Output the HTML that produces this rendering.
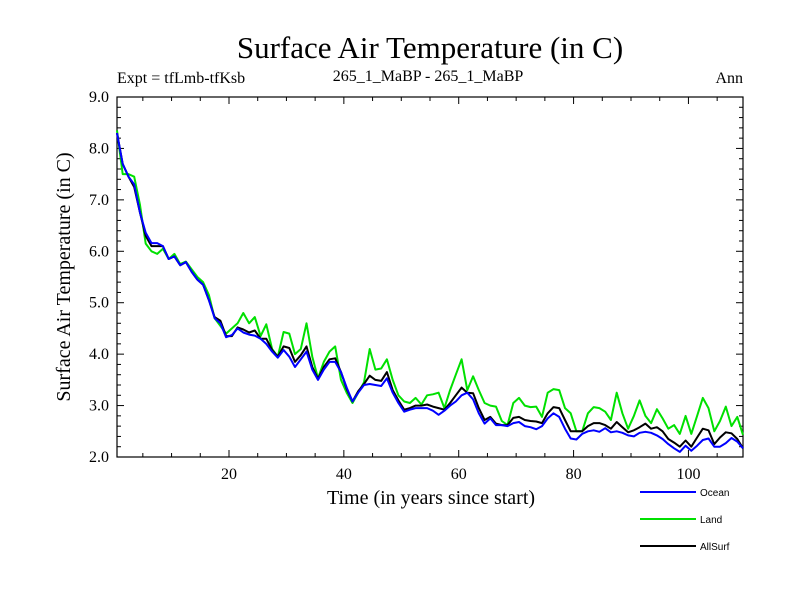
<!DOCTYPE html>
<html><head><meta charset="utf-8"><style>
body{margin:0;background:#fff}
svg{display:block;font-family:"Liberation Serif",serif}
</style></head><body>
<svg id="chart" width="800" height="600">
<text x="430" y="58" font-size="31" text-anchor="middle">Surface Air Temperature (in C)</text>
<text x="117" y="83" font-size="16">Expt = tfLmb-tfKsb</text>
<text x="428" y="81" font-size="16" text-anchor="middle">265_1_MaBP - 265_1_MaBP</text>
<text x="743" y="83" font-size="16" text-anchor="end">Ann</text>
<text x="431" y="504" font-size="20" text-anchor="middle">Time (in years since start)</text>
<text transform="translate(70,277) rotate(-90)" font-size="20" text-anchor="middle">Surface Air Temperature (in C)</text>
<g id="axes"></g>
<g id="series"></g>
<g id="legend"></g>
</svg>
<script>
const ocean=[8.3,7.7,7.45,7.3,6.75,6.36,6.16,6.16,6.1,5.85,5.9,5.73,5.79,5.6,5.45,5.35,5.05,4.7,4.6,4.33,4.37,
4.5,4.42,4.38,4.36,4.3,4.2,4.05,3.93,4.08,3.95,3.75,3.9,4.05,3.7,3.5,3.7,3.85,3.85,3.65,3.35,
3.08,3.25,3.4,3.42,3.4,3.38,3.53,3.25,3.05,2.88,2.92,2.95,2.95,2.95,2.9,2.82,2.9,3.0,3.08,
3.2,3.25,3.12,2.85,2.65,2.75,2.62,2.62,2.6,2.66,2.68,2.6,2.58,2.54,2.6,2.75,2.85,2.78,2.55,2.36,
2.34,2.45,2.5,2.52,2.49,2.56,2.48,2.5,2.47,2.42,2.4,2.47,2.49,2.47,
2.42,2.35,2.25,2.17,2.1,2.22,2.12,2.22,2.33,2.36,2.2,2.2,2.27,2.37,2.3,2.17];
const land=[8.35,7.5,7.5,7.45,6.9,6.15,6.0,5.95,6.05,5.85,5.95,5.75,5.8,5.65,5.5,5.4,5.15,4.7,4.55,4.4,4.5,
4.6,4.8,4.6,4.72,4.35,4.58,4.1,3.95,4.43,4.4,4.0,4.1,4.6,3.95,3.53,3.85,4.05,4.15,3.5,3.25,
3.05,3.25,3.45,4.1,3.7,3.72,3.9,3.5,3.2,3.08,3.05,3.15,3.02,3.2,3.22,3.25,2.95,3.3,3.6,
3.9,3.3,3.57,3.3,3.05,3.0,2.98,2.7,2.62,3.05,3.15,3.0,2.97,2.98,2.78,3.25,3.32,3.3,2.95,2.85,
2.5,2.5,2.85,2.97,2.95,2.88,2.72,3.25,2.85,2.55,2.8,3.1,2.8,2.66,
2.93,2.75,2.55,2.62,2.45,2.8,2.45,2.8,3.15,2.95,2.5,2.7,2.98,2.6,2.78,2.43];
const allsurf=[8.3,7.7,7.45,7.25,6.75,6.3,6.1,6.1,6.1,5.85,5.9,5.73,5.79,5.6,5.45,5.35,5.05,4.72,4.65,4.35,4.35,
4.52,4.48,4.42,4.46,4.3,4.3,4.08,3.95,4.15,4.12,3.85,3.98,4.15,3.75,3.52,3.75,3.9,3.92,3.65,3.32,
3.08,3.28,3.42,3.58,3.5,3.48,3.65,3.3,3.1,2.92,2.95,3.0,3.0,3.02,2.98,2.95,2.92,3.05,3.2,
3.35,3.25,3.24,2.95,2.72,2.78,2.65,2.62,2.62,2.76,2.78,2.72,2.7,2.69,2.66,2.85,2.97,2.95,2.72,2.5,
2.5,2.5,2.6,2.66,2.66,2.62,2.55,2.68,2.58,2.48,2.52,2.58,2.65,2.55,
2.58,2.5,2.35,2.28,2.2,2.32,2.2,2.38,2.55,2.52,2.25,2.38,2.48,2.46,2.35,2.17];
const xTickLabels=[20,40,60,80,100];
const yTickLabels=["2.0","3.0","4.0","5.0","6.0","7.0","8.0","9.0"];
const seriesNames=["Ocean","Land","AllSurf"];

const NS="http://www.w3.org/2000/svg";
const L=117,R=743,T=97,B=457,X0=0.5,X1=109.5,Y0=2,Y1=9;
const xs=v=>L+(v-X0)/(X1-X0)*(R-L);
const ys=v=>B-(v-Y0)/(Y1-Y0)*(B-T);
function mk(tag,attrs,parent){const e=document.createElementNS(NS,tag);for(const k in attrs)e.setAttribute(k,attrs[k]);parent.appendChild(e);return e;}
const axes=document.getElementById('axes');
const frame=mk('rect',{x:L,y:T,width:R-L,height:B-T,fill:'none',stroke:'#000','stroke-width':1.2},axes);


for(let v=5;v<=105;v+=5){
  const major=v%20===0,len=major?7:4,x=xs(v);
  const t1=mk('line',{x1:x,y1:B,x2:x,y2:B-len,stroke:'#000'},axes);
  
  
  const t2=mk('line',{x1:x,y1:T,x2:x,y2:T+len,stroke:'#000'},axes);
  
  
}
xTickLabels.forEach(v=>{
  const t=mk('text',{x:xs(v),y:B+22,'font-size':16,'text-anchor':'middle'},axes);t.textContent=v;
  
  
});
for(let i=0;i<=35;i++){
  const v=Y0+i*0.2,major=i%5===0,len=major?7:4,y=ys(v);
  const t1=mk('line',{x1:L,y1:y,x2:L+len,y2:y,stroke:'#000'},axes);
  
  
  const t2=mk('line',{x1:R,y1:y,x2:R-len,y2:y,stroke:'#000'},axes);
  
  
}
yTickLabels.forEach(s=>{
  const t=mk('text',{x:L-8,y:ys(parseFloat(s))+5,'font-size':16,'text-anchor':'end'},axes);t.textContent=s;
  
  
});
const ser=document.getElementById('series');
function line(data,color,name){
  const pts=data.map((v,i)=>xs(i+0.5).toFixed(1)+','+ys(v).toFixed(1)).join(' ');
  const p=mk('polyline',{points:pts,fill:'none',stroke:color,'stroke-width':2,'stroke-linejoin':'round'},ser);
  
  
}
line(land,'#00e000','land-line');
line(allsurf,'#000','allsurf-line');
line(ocean,'#0000ff','ocean-line');
const lg=document.getElementById('legend');
const lcol=['#0000ff','#00e000','#000'];
seriesNames.forEach((n,i)=>{
  const y=492+i*27;
  const l=mk('line',{x1:640,y1:y,x2:696,y2:y,stroke:lcol[i],'stroke-width':2},lg);
  
  
  const t=mk('text',{x:700,y:y+4,'font-size':10,'font-family':'Liberation Sans, sans-serif'},lg);t.textContent=n;
  
  
});
</script>
</body></html>
